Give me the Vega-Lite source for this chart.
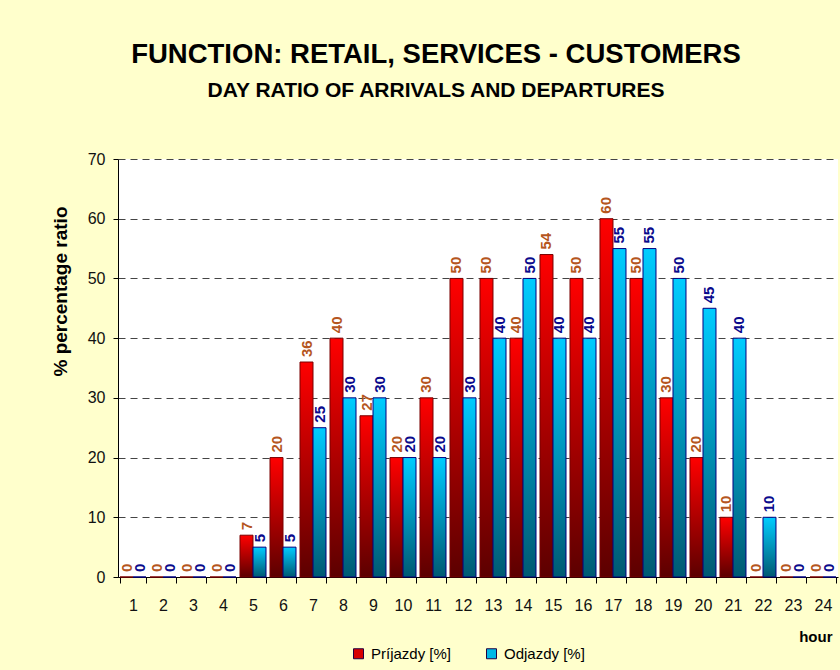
{
  "$schema": "https://vega.github.io/schema/vega-lite/v6.json",
  "autosize": "none",
  "width": 720,
  "height": 418,
  "padding": {"left": 118, "top": 159, "right": 2, "bottom": 93},
  "background": "#ffffcc",
  "view": {"fill": "#ffffff", "stroke": null},
  "config": {"font": "Liberation Sans"},
  "title": {
    "text": "FUNCTION: RETAIL, SERVICES - CUSTOMERS",
    "subtitle": "DAY RATIO OF ARRIVALS AND DEPARTURES",
    "anchor": "middle",
    "dx": -42,
    "offset": 50,
    "font": "Liberation Sans",
    "fontSize": 27.5,
    "fontWeight": "bold",
    "color": "#000000",
    "subtitleFont": "Liberation Sans",
    "subtitleFontSize": 21,
    "subtitleFontWeight": "bold",
    "subtitleColor": "#000000",
    "subtitlePadding": 12
  },
  "data": {
    "values": [
      {"hour": 1, "series": "Príjazdy [%]", "value": 0},
      {"hour": 2, "series": "Príjazdy [%]", "value": 0},
      {"hour": 3, "series": "Príjazdy [%]", "value": 0},
      {"hour": 4, "series": "Príjazdy [%]", "value": 0},
      {"hour": 5, "series": "Príjazdy [%]", "value": 7},
      {"hour": 6, "series": "Príjazdy [%]", "value": 20},
      {"hour": 7, "series": "Príjazdy [%]", "value": 36},
      {"hour": 8, "series": "Príjazdy [%]", "value": 40},
      {"hour": 9, "series": "Príjazdy [%]", "value": 27},
      {"hour": 10, "series": "Príjazdy [%]", "value": 20},
      {"hour": 11, "series": "Príjazdy [%]", "value": 30},
      {"hour": 12, "series": "Príjazdy [%]", "value": 50},
      {"hour": 13, "series": "Príjazdy [%]", "value": 50},
      {"hour": 14, "series": "Príjazdy [%]", "value": 40},
      {"hour": 15, "series": "Príjazdy [%]", "value": 54},
      {"hour": 16, "series": "Príjazdy [%]", "value": 50},
      {"hour": 17, "series": "Príjazdy [%]", "value": 60},
      {"hour": 18, "series": "Príjazdy [%]", "value": 50},
      {"hour": 19, "series": "Príjazdy [%]", "value": 30},
      {"hour": 20, "series": "Príjazdy [%]", "value": 20},
      {"hour": 21, "series": "Príjazdy [%]", "value": 10},
      {"hour": 22, "series": "Príjazdy [%]", "value": 0},
      {"hour": 23, "series": "Príjazdy [%]", "value": 0},
      {"hour": 24, "series": "Príjazdy [%]", "value": 0},
      {"hour": 1, "series": "Odjazdy [%]", "value": 0},
      {"hour": 2, "series": "Odjazdy [%]", "value": 0},
      {"hour": 3, "series": "Odjazdy [%]", "value": 0},
      {"hour": 4, "series": "Odjazdy [%]", "value": 0},
      {"hour": 5, "series": "Odjazdy [%]", "value": 5},
      {"hour": 6, "series": "Odjazdy [%]", "value": 5},
      {"hour": 7, "series": "Odjazdy [%]", "value": 25},
      {"hour": 8, "series": "Odjazdy [%]", "value": 30},
      {"hour": 9, "series": "Odjazdy [%]", "value": 30},
      {"hour": 10, "series": "Odjazdy [%]", "value": 20},
      {"hour": 11, "series": "Odjazdy [%]", "value": 20},
      {"hour": 12, "series": "Odjazdy [%]", "value": 30},
      {"hour": 13, "series": "Odjazdy [%]", "value": 40},
      {"hour": 14, "series": "Odjazdy [%]", "value": 50},
      {"hour": 15, "series": "Odjazdy [%]", "value": 40},
      {"hour": 16, "series": "Odjazdy [%]", "value": 40},
      {"hour": 17, "series": "Odjazdy [%]", "value": 55},
      {"hour": 18, "series": "Odjazdy [%]", "value": 55},
      {"hour": 19, "series": "Odjazdy [%]", "value": 50},
      {"hour": 20, "series": "Odjazdy [%]", "value": 45},
      {"hour": 21, "series": "Odjazdy [%]", "value": 40},
      {"hour": 22, "series": "Odjazdy [%]", "value": 10},
      {"hour": 23, "series": "Odjazdy [%]", "value": 0},
      {"hour": 24, "series": "Odjazdy [%]", "value": 0}
    ]
  },
  "encoding": {
    "x": {
      "field": "hour",
      "type": "ordinal",
      "scale": {"paddingInner": 0.1333, "paddingOuter": 0.0667},
      "axis": {
        "title": "hour",
        "titleFont": "Liberation Sans",
        "titleFontSize": 15,
        "titleFontWeight": "bold",
        "titleColor": "#000000",
        "titleAnchor": "end",
        "titleAlign": "right",
        "titleBaseline": "alphabetic",
        "titleX": 714,
        "titleY": 64,
        "labelAngle": 0,
        "labelFontSize": 16,
        "labelColor": "#111111",
        "labelPadding": 14,
        "tickBand": "extent",
        "tickSize": 6,
        "tickColor": "#000000",
        "domainColor": "#000000",
        "domainWidth": 1,
        "grid": false
      }
    },
    "xOffset": {
      "field": "series",
      "type": "nominal",
      "scale": {"domain": ["Príjazdy [%]", "Odjazdy [%]"], "paddingInner": 0, "paddingOuter": 0}
    },
    "y": {
      "field": "value",
      "type": "quantitative",
      "scale": {"domain": [0, 70], "nice": false},
      "axis": {
        "title": "% percentage ratio",
        "titleFontSize": 19,
        "titleFontWeight": "bold",
        "titleColor": "#000000",
        "titleAngle": -90,
        "titleAlign": "center",
        "titleBaseline": "middle",
        "titleX": -58,
        "titleY": 132,
        "values": [0, 10, 20, 30, 40, 50, 60, 70],
        "labelFontSize": 16,
        "labelColor": "#111111",
        "labelPadding": 8,
        "tickSize": 5,
        "tickColor": "#000000",
        "domainColor": "#000000",
        "grid": true,
        "gridColor": "#444444",
        "gridDash": [7, 5],
        "gridWidth": 1
      }
    }
  },
  "layer": [
    {
      "mark": {"type": "bar", "strokeWidth": 1},
      "encoding": {
        "color": {
          "field": "series",
          "type": "nominal",
          "scale": {"domain": ["Príjazdy [%]", "Odjazdy [%]"], "range": ["#d80000", "#00b8e6"]},
          "condition": [
            {
              "test": "datum.series === 'Príjazdy [%]'",
              "value": {"gradient": "linear", "x1": 0, "y1": 0, "x2": 0, "y2": 1, "stops": [{"offset": 0, "color": "#ff0000"}, {"offset": 1, "color": "#5c0000"}]}
            },
            {
              "test": "datum.series === 'Odjazdy [%]'",
              "value": {"gradient": "linear", "x1": 0, "y1": 0, "x2": 0, "y2": 1, "stops": [{"offset": 0, "color": "#00ccff"}, {"offset": 1, "color": "#005a72"}]}
            }
          ],
          "legend": {
            "title": null,
            "orient": "none",
            "legendX": 233,
            "legendY": 487,
            "direction": "horizontal",
            "columns": 2,
            "columnPadding": 32,
            "symbolType": "square",
            "symbolSize": 100,
            "symbolStrokeColor": "#200040",
            "symbolStrokeWidth": 1,
            "symbolOpacity": 1,
            "labelFontSize": 15,
            "labelColor": "#000000",
            "labelOffset": 5
          }
        },
        "stroke": {
          "condition": {"test": "datum.series === 'Odjazdy [%]'", "value": "#000080"},
          "value": "#7a0000"
        }
      }
    },
    {
      "mark": {"type": "text", "angle": 270, "align": "left", "baseline": "middle", "dx": 5, "fontSize": 15, "fontWeight": "bold"},
      "encoding": {
        "text": {"field": "value", "type": "quantitative"},
        "color": {
          "condition": {"test": "datum.series === 'Odjazdy [%]'", "value": "#0a0a8c"},
          "value": "#b5561e"
        }
      }
    }
  ]
}
